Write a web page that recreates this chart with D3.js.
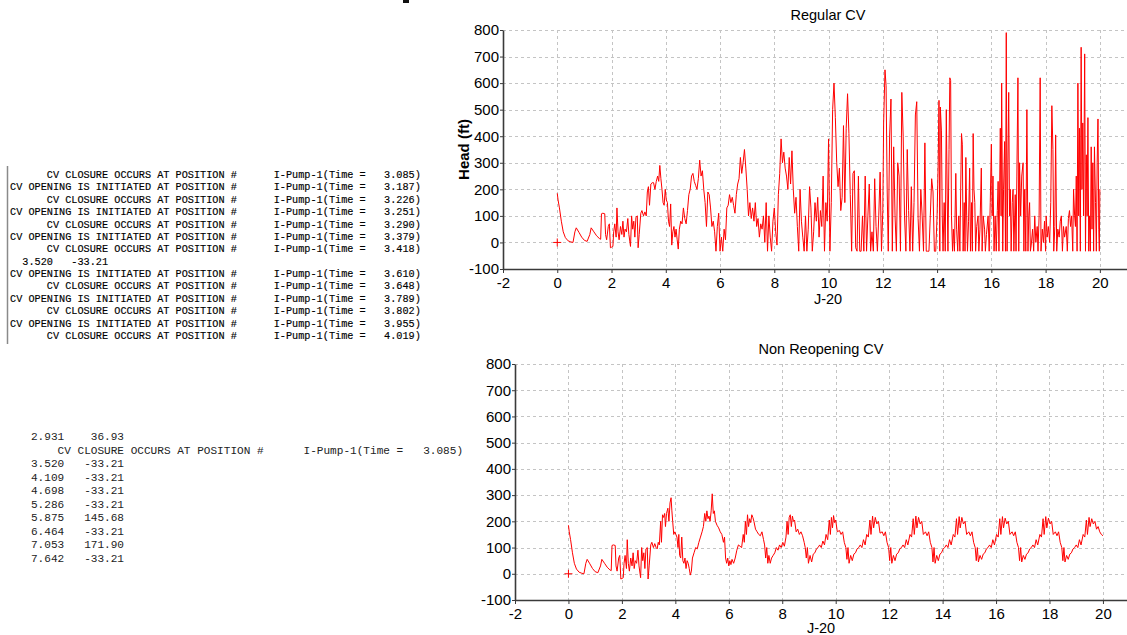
<!DOCTYPE html>
<html>
<head>
<meta charset="utf-8">
<script src="https://cdn.jsdelivr.net/npm/d3@7"></script>
<style>
body { margin: 0; background: #fff; }
svg { display: block; }
</style>
</head>
<body>
<script>
// ticks shared by both plots
var xTicks = [-2, 0, 2, 4, 6, 8, 10, 12, 14, 16, 18, 20]
var yTicks = [-100, 0, 100, 200, 300, 400, 500, 600, 700, 800]

// Head (ft) vs time [time, head]
var regularCV = [[0,185],[0.03,160],[0.08,130],[0.15,80],[0.22,40],[0.3,18],[0.4,6],[0.5,2],[0.58,0],[0.65,40],[0.7,55],[0.8,38],[0.9,20],[1.0,8],[1.1,4],[1.2,30],[1.25,55],[1.35,40],[1.45,25],[1.55,15],[1.6,12],[1.63,108],[1.68,110],[1.75,108],[1.78,30],[1.82,10],[1.88,60],[1.92,70],[1.96,-20],[2.0,-18],[2.05,-15],[2.08,40],[2.12,70],[2.17,20],[2.2,130],[2.24,40],[2.28,10],[2.33,60],[2.38,30],[2.42,80],[2.46,20],[2.5,50],[2.55,40],[2.6,90],[2.64,30],[2.7,-15],[2.74,100],[2.78,50],[2.82,80],[2.86,20],[2.9,95],[2.95,100],[2.98,-20],[3.02,30],[3.08,110],[3.12,120],[3.18,100],[3.23,115],[3.28,100],[3.32,190],[3.36,210],[3.4,140],[3.45,220],[3.5,225],[3.55,225],[3.6,200],[3.65,230],[3.7,250],[3.74,230],[3.78,290],[3.82,240],[3.86,200],[3.9,150],[3.94,140],[3.98,200],[4.02,160],[4.06,150],[4.1,80],[4.14,60],[4.18,145],[4.22,-10],[4.26,40],[4.3,60],[4.34,20],[4.38,50],[4.42,10],[4.46,-25],[4.5,50],[4.55,80],[4.6,70],[4.65,130],[4.7,90],[4.75,70],[4.8,120],[4.85,180],[4.9,200],[4.95,250],[5.0,260],[5.05,230],[5.1,215],[5.15,200],[5.2,240],[5.25,310],[5.3,250],[5.35,270],[5.4,200],[5.45,150],[5.5,60],[5.55,190],[5.6,180],[5.65,130],[5.7,60],[5.75,80],[5.8,40],[5.85,-33],[5.9,60],[5.95,110],[6.0,-33],[6.05,20],[6.1,-33],[6.15,50],[6.2,10],[6.25,130],[6.3,140],[6.35,180],[6.4,150],[6.45,170],[6.5,140],[6.55,110],[6.6,180],[6.65,220],[6.7,240],[6.75,320],[6.8,260],[6.85,300],[6.9,350],[6.95,280],[7.0,200],[7.05,100],[7.1,150],[7.15,90],[7.2,130],[7.25,80],[7.3,150],[7.35,60],[7.4,90],[7.45,20],[7.5,70],[7.55,50],[7.6,100],[7.65,0],[7.7,150],[7.75,-33],[7.8,100],[7.85,20],[7.9,-33],[7.95,80],[8.0,130],[8.05,40],[8.1,-10],[8.15,180],[8.2,260],[8.25,390],[8.3,300],[8.35,340],[8.4,280],[8.45,250],[8.5,200],[8.55,320],[8.6,220],[8.65,345],[8.7,200],[8.75,110],[8.8,170],[8.85,60],[8.9,-33],[8.95,200],[9.0,80],[9.05,20],[9.1,-33],[9.15,100],[9.2,-33],[9.25,50],[9.3,210],[9.35,130],[9.4,-33],[9.45,40],[9.5,150],[9.55,80],[9.6,170],[9.65,20],[9.7,120],[9.75,60],[9.8,250],[9.85,-33],[9.9,150],[9.95,80],[10.0,390],[10.05,-33],[10.1,150],[10.15,500],[10.2,600],[10.25,470],[10.3,300],[10.35,210],[10.4,280],[10.45,120],[10.5,170],[10.55,440],[10.6,150],[10.65,430],[10.7,560],[10.75,410],[10.8,180],[10.85,-33],[10.9,260],[10.95,270],[11.0,-20],[11.05,-33],[11.1,250],[11.15,-33],[11.2,-33],[11.25,100],[11.3,-33],[11.35,250],[11.4,-33],[11.45,100],[11.5,220],[11.55,-33],[11.6,40],[11.65,-33],[11.7,240],[11.75,60],[11.8,-33],[11.85,100],[11.9,265],[11.95,-33],[12.0,120],[12.03,450],[12.08,650],[12.12,590],[12.16,200],[12.2,-33],[12.25,400],[12.3,540],[12.35,-33],[12.4,360],[12.45,100],[12.5,-33],[12.55,300],[12.6,250],[12.65,-33],[12.7,565],[12.75,400],[12.8,100],[12.85,-33],[12.9,350],[12.95,120],[13.0,-33],[13.05,210],[13.1,-33],[13.15,150],[13.2,480],[13.25,530],[13.3,90],[13.35,-33],[13.4,200],[13.45,100],[13.5,-33],[13.55,375],[13.6,-33],[13.65,-33],[13.7,-33],[13.75,100],[13.8,240],[13.85,190],[13.9,-33],[13.95,-33],[14.0,100],[14.04,300],[14.07,535],[14.1,-33],[14.12,510],[14.16,420],[14.19,100],[14.22,-33],[14.26,150],[14.3,-33],[14.34,500],[14.37,200],[14.4,-33],[14.44,350],[14.47,620],[14.5,610],[14.53,100],[14.57,-33],[14.6,50],[14.64,-33],[14.69,260],[14.72,50],[14.76,-33],[14.8,100],[14.84,-33],[14.87,200],[14.9,410],[14.93,370],[14.96,-33],[15.0,150],[15.03,-33],[15.06,320],[15.09,100],[15.12,-33],[15.16,80],[15.2,280],[15.23,-33],[15.27,150],[15.3,-33],[15.33,410],[15.36,200],[15.39,150],[15.42,-33],[15.46,60],[15.51,100],[15.54,-33],[15.58,50],[15.63,280],[15.66,-33],[15.7,100],[15.75,50],[15.78,-33],[15.82,30],[15.88,100],[15.92,-33],[15.96,150],[16.0,370],[16.03,100],[16.06,250],[16.1,-33],[16.14,100],[16.18,-33],[16.22,120],[16.25,230],[16.28,-33],[16.33,430],[16.36,100],[16.38,600],[16.42,-33],[16.45,200],[16.49,380],[16.52,-33],[16.55,790],[16.58,-33],[16.61,300],[16.64,565],[16.67,100],[16.7,200],[16.73,-33],[16.77,150],[16.8,200],[16.83,-33],[16.88,180],[16.91,-33],[16.94,250],[16.98,620],[17.01,-33],[17.04,300],[17.08,100],[17.12,250],[17.17,300],[17.2,-33],[17.23,200],[17.27,-33],[17.31,500],[17.35,-33],[17.38,100],[17.41,150],[17.44,-33],[17.47,-10],[17.52,50],[17.56,-33],[17.6,100],[17.64,0],[17.69,60],[17.72,-33],[17.76,100],[17.8,620],[17.83,-33],[17.88,50],[17.92,0],[17.96,80],[18.0,-33],[18.02,100],[18.06,20],[18.1,60],[18.15,0],[18.19,150],[18.23,515],[18.27,350],[18.3,-33],[18.34,60],[18.37,405],[18.41,-33],[18.45,50],[18.5,20],[18.54,80],[18.58,100],[18.62,-33],[18.66,60],[18.7,20],[18.76,60],[18.8,-33],[18.84,90],[18.88,120],[18.92,60],[18.96,100],[19.0,-33],[19.03,200],[19.07,100],[19.1,60],[19.13,250],[19.16,-33],[19.19,600],[19.22,100],[19.25,430],[19.28,-33],[19.31,735],[19.34,200],[19.37,450],[19.4,100],[19.44,710],[19.47,-33],[19.5,330],[19.53,100],[19.56,470],[19.59,-33],[19.62,100],[19.65,-33],[19.68,360],[19.71,50],[19.74,300],[19.77,-33],[19.8,360],[19.84,150],[19.87,-33],[19.9,300],[19.93,465],[19.96,50],[19.98,-33],[20.0,200]]

var nonReopeningCV = [[0,185],[0.03,160],[0.08,130],[0.15,80],[0.22,40],[0.3,18],[0.4,6],[0.5,2],[0.58,0],[0.65,40],[0.7,55],[0.8,38],[0.9,20],[1.0,8],[1.1,4],[1.2,30],[1.25,55],[1.35,40],[1.45,25],[1.55,15],[1.6,12],[1.63,108],[1.68,110],[1.75,108],[1.78,30],[1.82,10],[1.88,60],[1.92,70],[1.96,-20],[2.0,-18],[2.05,-15],[2.08,40],[2.12,70],[2.17,20],[2.2,130],[2.24,40],[2.28,10],[2.33,60],[2.38,30],[2.42,80],[2.46,20],[2.5,50],[2.55,40],[2.6,90],[2.64,30],[2.7,-15],[2.74,100],[2.78,50],[2.82,80],[2.86,20],[2.9,95],[2.95,100],[2.98,-20],[3.02,30],[3.08,110],[3.12,120],[3.18,100],[3.23,115],[3.28,100],[3.32,95],[3.36,120],[3.4,110],[3.45,200],[3.48,120],[3.52,225],[3.56,215],[3.6,230],[3.63,180],[3.67,230],[3.72,250],[3.76,200],[3.8,270],[3.84,290],[3.87,240],[3.9,200],[3.94,150],[3.98,160],[4.02,150],[4.06,140],[4.1,100],[4.13,150],[4.16,70],[4.2,60],[4.24,140],[4.28,50],[4.32,40],[4.36,60],[4.4,20],[4.44,50],[4.48,40],[4.52,20],[4.56,-5],[4.6,10],[4.64,60],[4.7,80],[4.76,100],[4.82,95],[4.88,120],[4.94,140],[5.0,160],[5.05,180],[5.1,230],[5.14,200],[5.18,240],[5.22,210],[5.26,220],[5.3,200],[5.34,240],[5.38,305],[5.42,230],[5.46,240],[5.5,200],[5.56,185],[5.62,175],[5.68,160],[5.74,150],[5.8,120],[5.84,140],[5.88,60],[5.92,40],[5.96,60],[6.0,30],[6.04,50],[6.08,35],[6.12,55],[6.18,40],[6.24,60],[6.3,90],[6.36,110],[6.42,105],[6.48,100],[6.54,150],[6.58,120],[6.62,200],[6.66,150],[6.7,225],[6.74,180],[6.78,210],[6.82,195],[6.86,225],[6.9,215],[6.94,200],[7.0,170],[7.06,160],[7.12,150],[7.18,145],[7.24,160],[7.3,130],[7.34,110],[7.38,60],[7.42,100],[7.46,40],[7.5,70],[7.55,40],[7.6,60],[7.66,70],[7.72,80],[7.78,100],[7.84,90],[7.9,110],[7.96,100],[8.02,120],[8.08,105],[8.14,140],[8.18,200],[8.22,150],[8.26,215],[8.3,225],[8.34,180],[8.38,220],[8.42,200],[8.46,205],[8.52,160],[8.58,170],[8.64,150],[8.7,160],[8.76,145],[8.82,120],[8.86,100],[8.9,60],[8.94,100],[8.98,40],[9.04,70],[9.1,45],[9.16,75],[9.22,80],[9.28,95],[9.34,100],[9.4,110],[9.46,100],[9.52,125],[9.58,110],[9.64,150],[9.7,130],[9.76,205],[9.8,150],[9.84,215],[9.88,175],[9.92,222],[9.96,195],[10.0,205],[10.06,160],[10.14,165],[10.2,150],[10.26,160],[10.32,120],[10.38,100],[10.42,55],[10.46,100],[10.5,40],[10.56,70],[10.62,50],[10.68,75],[10.74,80],[10.8,95],[10.86,100],[10.92,110],[10.98,100],[11.04,130],[11.1,110],[11.16,150],[11.22,140],[11.28,205],[11.32,150],[11.38,220],[11.42,175],[11.48,215],[11.54,190],[11.6,200],[11.66,155],[11.74,160],[11.8,145],[11.86,160],[11.92,120],[11.98,100],[12.02,50],[12.06,100],[12.1,40],[12.16,70],[12.22,50],[12.28,75],[12.34,80],[12.4,95],[12.46,100],[12.52,110],[12.58,100],[12.64,130],[12.7,110],[12.78,150],[12.84,140],[12.9,210],[12.94,150],[13.0,220],[13.04,175],[13.1,215],[13.16,190],[13.22,200],[13.28,150],[13.36,160],[13.42,145],[13.48,160],[13.54,120],[13.6,100],[13.64,45],[13.68,100],[13.72,40],[13.78,70],[13.84,50],[13.9,75],[13.96,80],[14.02,95],[14.08,100],[14.14,110],[14.2,100],[14.26,130],[14.32,110],[14.4,150],[14.46,140],[14.52,210],[14.56,150],[14.62,218],[14.66,175],[14.72,215],[14.78,190],[14.84,200],[14.9,150],[14.98,160],[15.04,145],[15.1,160],[15.16,120],[15.22,100],[15.26,50],[15.3,100],[15.34,45],[15.4,70],[15.46,55],[15.52,75],[15.58,80],[15.64,95],[15.7,100],[15.76,110],[15.82,100],[15.88,130],[15.94,110],[16.02,150],[16.08,140],[16.14,210],[16.18,150],[16.24,218],[16.28,175],[16.34,212],[16.4,190],[16.46,200],[16.52,150],[16.6,160],[16.66,145],[16.72,160],[16.78,120],[16.84,100],[16.88,50],[16.92,100],[16.96,45],[17.02,70],[17.08,55],[17.14,75],[17.2,80],[17.26,95],[17.32,100],[17.38,110],[17.44,100],[17.5,130],[17.56,110],[17.64,150],[17.7,140],[17.76,210],[17.8,150],[17.86,218],[17.9,175],[17.96,212],[18.02,190],[18.08,200],[18.14,150],[18.22,160],[18.28,145],[18.34,160],[18.4,120],[18.46,100],[18.5,50],[18.54,100],[18.58,45],[18.64,70],[18.7,55],[18.76,75],[18.82,80],[18.88,95],[18.94,100],[19.0,110],[19.06,100],[19.12,130],[19.18,110],[19.26,150],[19.32,140],[19.38,205],[19.42,150],[19.48,215],[19.52,180],[19.58,210],[19.64,190],[19.7,200],[19.76,170],[19.82,180],[19.88,160],[19.94,150],[20.0,145]]

// surge program output shown at the left
var logLines1 = [
  "      CV CLOSURE OCCURS AT POSITION #      I-Pump-1(Time =   3.085)",
  "CV OPENING IS INITIATED AT POSITION #      I-Pump-1(Time =   3.187)",
  "      CV CLOSURE OCCURS AT POSITION #      I-Pump-1(Time =   3.226)",
  "CV OPENING IS INITIATED AT POSITION #      I-Pump-1(Time =   3.251)",
  "      CV CLOSURE OCCURS AT POSITION #      I-Pump-1(Time =   3.290)",
  "CV OPENING IS INITIATED AT POSITION #      I-Pump-1(Time =   3.379)",
  "      CV CLOSURE OCCURS AT POSITION #      I-Pump-1(Time =   3.418)",
  "  3.520   -33.21",
  "CV OPENING IS INITIATED AT POSITION #      I-Pump-1(Time =   3.610)",
  "      CV CLOSURE OCCURS AT POSITION #      I-Pump-1(Time =   3.648)",
  "CV OPENING IS INITIATED AT POSITION #      I-Pump-1(Time =   3.789)",
  "      CV CLOSURE OCCURS AT POSITION #      I-Pump-1(Time =   3.802)",
  "CV OPENING IS INITIATED AT POSITION #      I-Pump-1(Time =   3.955)",
  "      CV CLOSURE OCCURS AT POSITION #      I-Pump-1(Time =   4.019)"
]
var logLines2 = [
  "   2.931    36.93",
  "       CV CLOSURE OCCURS AT POSITION #      I-Pump-1(Time =   3.085)",
  "   3.520   -33.21",
  "   4.109   -33.21",
  "   4.698   -33.21",
  "   5.286   -33.21",
  "   5.875   145.68",
  "   6.464   -33.21",
  "   7.053   171.90",
  "   7.642   -33.21"
]

var W = 1127, H = 635

var svg = d3.select("body").append("svg")
    .attr("width", W)
    .attr("height", H)
    .style("background", "#fff")

// ---- left text panel
svg.append("rect").attr("x", 403).attr("y", 0).attr("width", 6).attr("height", 3).attr("fill", "#111")

svg.append("line")
    .attr("x1", 7.5).attr("x2", 7.5).attr("y1", 166).attr("y2", 344)
    .attr("stroke", "#8a8a8a").attr("stroke-width", 1.5)

svg.append("g").selectAll("text")
    .data(logLines1)
    .enter().append("text")
    .attr("xml:space", "preserve")
    .style("white-space", "pre")
    .attr("x", 10)
    .attr("y", function(d, i) { return 178 + i * 12.38 })
    .attr("font-family", "'Liberation Mono', 'Courier New', monospace")
    .attr("font-size", "10.23px")
    .attr("fill", "#000")
    .attr("stroke", "#000")
    .attr("stroke-width", 0.15)
    .text(function(d) { return d })

svg.append("g").selectAll("text")
    .data(logLines2)
    .enter().append("text")
    .attr("xml:space", "preserve")
    .style("white-space", "pre")
    .attr("x", 11)
    .attr("y", function(d, i) { return 440 + i * 13.56 })
    .attr("font-family", "'Liberation Mono', 'Courier New', monospace")
    .attr("font-size", "11.08px")
    .attr("fill", "#222")
    .text(function(d) { return d })

// ---- one plot
function drawChart(cfg) {
    var x = d3.scaleLinear().domain([-2, cfg.xMax]).range([cfg.left, W])
    var y = d3.scaleLinear().domain([-100, 800]).range([cfg.bottom, cfg.top])
    var g = svg.append("g")
    var plain = function(d) { return String(d) }   // hyphen minus, like the original

    // grid
    g.append("g").selectAll("line")
        .data(yTicks.filter(function(v) { return v > -100 }))
        .enter().append("line")
        .attr("x1", cfg.left).attr("x2", W)
        .attr("y1", function(d) { return Math.round(y(d)) + 0.5 })
        .attr("y2", function(d) { return Math.round(y(d)) + 0.5 })
        .attr("stroke", "#c4c4c4").attr("stroke-dasharray", "3,3")
    g.append("g").selectAll("line")
        .data(xTicks.filter(function(v) { return v > -2 }))
        .enter().append("line")
        .attr("x1", function(d) { return Math.round(x(d)) + 0.5 })
        .attr("x2", function(d) { return Math.round(x(d)) + 0.5 })
        .attr("y1", cfg.top).attr("y2", cfg.bottom)
        .attr("stroke", "#c4c4c4").attr("stroke-dasharray", "3,3")

    // axes
    var yAxis = g.append("g")
        .attr("transform", "translate(" + cfg.left + ",0)")
        .call(d3.axisLeft(y).tickValues(yTicks).tickFormat(plain).tickSize(3).tickPadding(1).tickSizeOuter(0))
    var xAxis = g.append("g")
        .attr("transform", "translate(0," + cfg.bottom + ")")
        .call(d3.axisBottom(x).tickValues(xTicks).tickFormat(plain).tickSize(4).tickPadding(4).tickSizeOuter(0))
    ;[yAxis, xAxis].forEach(function(a) {
        a.select(".domain").attr("stroke", "#3a3a3a").attr("stroke-width", 1.6)
        a.selectAll(".tick line").attr("stroke", "#3a3a3a")
        a.selectAll("text")
            .attr("font-family", "'Liberation Sans', Arial, sans-serif")
            .attr("font-size", "15px")
            .attr("fill", "#000")
    })

    // series
    var line = d3.line()
        .x(function(d) { return x(d[0]) })
        .y(function(d) { return y(d[1]) })
    g.append("path")
        .datum(cfg.data)
        .attr("d", line)
        .attr("fill", "none")
        .attr("stroke", "#ff0000")
        .attr("stroke-width", 1)

    // start marker
    var mx = x(0), my = y(0)
    g.append("path")
        .attr("d", "M" + (mx - 4) + "," + my + "H" + (mx + 4) + "M" + mx + "," + (my - 4) + "V" + (my + 4))
        .attr("stroke", "#ff0000").attr("stroke-width", 1)

    // labels
    g.append("text")
        .attr("x", cfg.titleX).attr("y", cfg.top - 10)
        .attr("text-anchor", "middle")
        .attr("font-family", "'Liberation Sans', Arial, sans-serif")
        .attr("font-size", "14.5px")
        .text(cfg.title)
    g.append("text")
        .attr("x", cfg.titleX).attr("y", cfg.bottom + cfg.xLabelDy)
        .attr("text-anchor", "middle")
        .attr("font-family", "'Liberation Sans', Arial, sans-serif")
        .attr("font-size", "14.5px")
        .text("J-20")
    var yl = g.append("text")
        .attr("transform", "translate(" + cfg.yLabelX + "," + ((cfg.top + cfg.bottom) / 2) + ") rotate(-90)")
        .attr("text-anchor", "middle")
        .attr("font-family", "'Liberation Sans', Arial, sans-serif")
        .attr("font-size", "15px")
        .attr("font-weight", "bold")
        .text("Head (ft)")
    if (cfg.clipLabel) {
        svg.append("clipPath").attr("id", "yclip")
            .append("rect").attr("x", cfg.clipLabel).attr("y", 0).attr("width", 60).attr("height", H)
        yl.attr("clip-path", "url(#yclip)")
    }
}

drawChart({ data: regularCV, title: "Regular CV", left: 503, top: 30, bottom: 269, xMax: 21, titleX: 828, yLabelX: 469, xLabelDy: 35 })
drawChart({ data: nonReopeningCV, title: "Non Reopening CV", left: 515, top: 364, bottom: 600, xMax: 20.9, titleX: 821, yLabelX: 472, xLabelDy: 33, clipLabel: 467 })
</script>
</body>
</html>
